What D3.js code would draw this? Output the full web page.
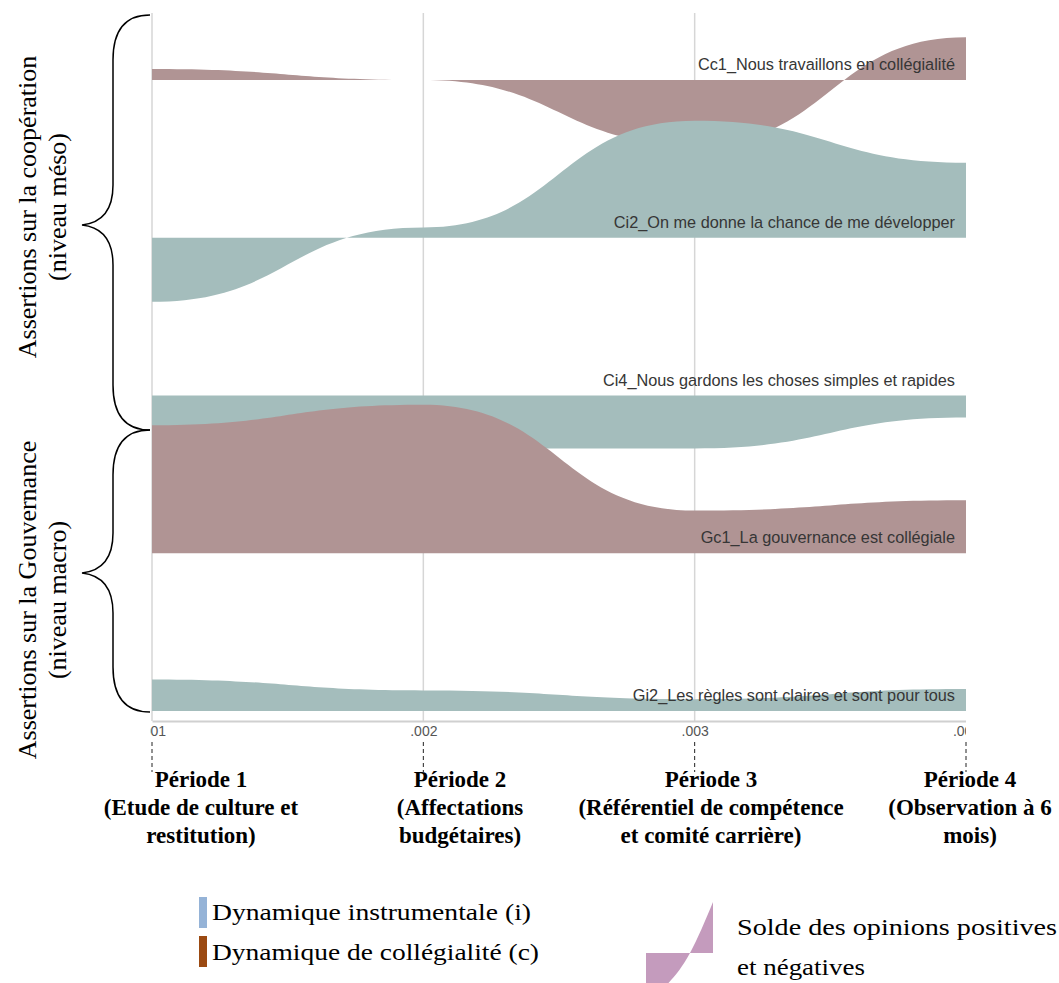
<!DOCTYPE html>
<html lang="fr">
<head>
<meta charset="utf-8">
<title>Dynamiques des assertions</title>
<script src="https://cdn.jsdelivr.net/npm/d3@7"></script>
<style>
  body { margin: 0; background: #fff; }
  svg { display: block; }
  .row-label { font-family: "Liberation Sans", Arial, sans-serif; font-size: 16.3px; fill: #363636; }
  .serif { font-family: "Liberation Serif", "Times New Roman", serif; fill: #000; }
</style>
</head>
<body>
<svg id="chart"></svg>
<script>
// periods on the x axis
const periods = [0.001, 0.002, 0.003, 0.004];
const periodTitles = ['Période 1', 'Période 2', 'Période 3', 'Période 4'];
const periodNotes = [
  ['(Etude de culture et', 'restitution)'],
  ['(Affectations', 'budgétaires)'],
  ['(Référentiel de compétence', 'et comité carrière)'],
  ['(Observation à 6', 'mois)']
];

// assertions, top to bottom, and their dynamic (i = instrumentale, c = collégialité)
const assertions = [
  'Cc1_Nous travaillons en collégialité',
  'Ci2_On me donne la chance de me développer',
  'Ci4_Nous gardons les choses simples et rapides',
  'Gc1_La gouvernance est collégiale',
  'Gi2_Les règles sont claires et sont pour tous'
];
const dynamics = ['c', 'i', 'i', 'c', 'i'];

// solde des opinions positives et négatives, one value per period
const cc1Values = [7, 0, -41, 27];
const ci2Values = [-40.5, 6.5, 74, 47.5];
const ci4Values = [-33.5, -33.5, -33.5, -14];
const gc1Values = [81, 94, 27, 33.5];
const gi2Values = [20, 13, 7.5, 14];
const seriesValues = [cc1Values, ci2Values, ci4Values, gc1Values, gi2Values];

// side braces and legend texts
const groupLabels = [
  ['Assertions sur la coopération', '(niveau méso)'],
  ['Assertions sur la Gouvernance', '(niveau macro)']
];
const legendLabels = ['Dynamique instrumentale (i)', 'Dynamique de collégialité (c)'];
const balanceLabels = ['Solde des opinions positives', 'et négatives'];

// ---- layout ----
const width = 1059;
const height = 983;
const colors = { i: '#a4bdbc', c: '#b09494' };
const legendColors = ['#95b3d7', '#9b4a12'];

const svg = d3.select('#chart')
  .attr('width', width)
  .attr('height', height)
  .attr('viewBox', `0 0 ${width} ${height}`);

const x = d3.scaleLinear().domain([0.001, 0.004]).range([152, 966]);
const row = d3.scalePoint().domain(assertions).range([80, 711]);
const v = d3.scaleLinear().domain([0, 100]).range([0, 158]);

// clips: tick labels are cut at both ends, period 3 text is cut on the right
const defs = svg.append('defs');
defs.append('clipPath').attr('id', 'tick-clip')
  .append('rect').attr('x', 150).attr('y', -20).attr('width', 816).attr('height', 60);
defs.append('clipPath').attr('id', 'period3-clip')
  .append('rect').attr('x', 0).attr('y', 740).attr('width', 845).attr('height', 120);

// vertical grid lines
svg.append('g')
  .selectAll('line')
  .data(periods.slice(0, 3))
  .join('line')
    .attr('x1', d => x(d)).attr('x2', d => x(d))
    .attr('y1', 13).attr('y2', 721)
    .attr('stroke', '#d6d6d6')
    .attr('stroke-width', 1.5);

// areas, one ridge per assertion
const area = d3.area()
  .x((d, i) => x(periods[i]))
  .y0(0)
  .y1(d => -v(d))
  .curve(d3.curveBumpX);

const ridges = svg.append('g')
  .selectAll('g')
  .data(assertions)
  .join('g')
    .attr('transform', d => `translate(0, ${row(d)})`);

ridges.append('path')
  .attr('d', (d, i) => area(seriesValues[i]))
  .attr('fill', (d, i) => colors[dynamics[i]]);

ridges.append('text')
  .attr('class', 'row-label')
  .attr('x', 955)
  .attr('y', -10)
  .attr('text-anchor', 'end')
  .text(d => d);

// bottom axis
const axis = svg.append('g')
  .attr('transform', 'translate(0, 721)')
  .attr('clip-path', 'url(#tick-clip)')
  .call(d3.axisBottom(x)
    .tickValues(periods)
    .tickSize(0)
    .tickSizeOuter(0)
    .tickPadding(5)
    .tickFormat(d => d3.format('.3f')(d).replace(/^0/, '')));
axis.attr('font-family', '"Liberation Sans", Arial, sans-serif').attr('font-size', 14);
axis.selectAll('.tick text').attr('fill', '#555');
axis.select('.domain').attr('stroke', '#d0d0d0').attr('stroke-width', 2);

// dashed markers under each tick
svg.append('g')
  .selectAll('line')
  .data(periods)
  .join('line')
    .attr('x1', d => x(d)).attr('x2', d => x(d))
    .attr('y1', 742).attr('y2', 772)
    .attr('stroke', '#222')
    .attr('stroke-dasharray', '4,3');

// period labels
const periodLabelX = [201, 460, 711, 970];
const periodText = svg.append('g')
  .selectAll('text')
  .data(periodTitles)
  .join('text')
    .attr('class', 'serif')
    .attr('clip-path', (d, i) => i === 2 ? 'url(#period3-clip)' : null)
    .attr('text-anchor', 'middle')
    .attr('font-size', 23)
    .attr('font-weight', 'bold');
periodText.append('tspan')
  .attr('x', (d, i) => periodLabelX[i]).attr('y', 787)
  .text(d => d);
periodText.each(function (d, i) {
  d3.select(this).selectAll('tspan.note')
    .data(periodNotes[i])
    .join('tspan')
      .attr('class', 'note')
      .attr('x', periodLabelX[i])
      .attr('y', (n, j) => 815 + j * 28)
      .text(n => n);
});

// curly braces on the left
const braces = [
  { top: 15, tip: 225, bottom: 430 },
  { top: 430, tip: 573, bottom: 712 }
];
function bracePath(b) {
  const p = d3.path();
  p.moveTo(150, b.top);
  p.bezierCurveTo(126, b.top, 113, b.top + 15, 113, b.top + 45);
  p.lineTo(113, b.tip - 40);
  p.bezierCurveTo(113, b.tip - 12, 100, b.tip - 2, 82, b.tip);
  p.bezierCurveTo(100, b.tip + 2, 113, b.tip + 12, 113, b.tip + 40);
  p.lineTo(113, b.bottom - 45);
  p.bezierCurveTo(113, b.bottom - 15, 126, b.bottom, 150, b.bottom);
  return p.toString();
}
svg.append('g')
  .selectAll('path')
  .data(braces)
  .join('path')
    .attr('d', bracePath)
    .attr('fill', 'none')
    .attr('stroke', '#000')
    .attr('stroke-width', 1.5);

// rotated group labels
const groupCenters = [207, 600];
groupLabels.forEach((lines, g) => {
  svg.append('text')
    .attr('class', 'serif')
    .attr('font-size', 26)
    .attr('text-anchor', 'middle')
    .attr('transform', `translate(0, ${groupCenters[g]}) rotate(-90)`)
    .selectAll('tspan')
    .data(lines)
    .join('tspan')
      .attr('x', 0)
      .attr('y', (d, j) => 36 + j * 30)
      .text(d => d);
});

// legend: dynamics
const legendWidths = [319, 327];
const legend = svg.append('g');
legend.selectAll('rect')
  .data(legendLabels)
  .join('rect')
    .attr('x', 199)
    .attr('y', (d, i) => 897 + i * 39)
    .attr('width', 8)
    .attr('height', 31)
    .attr('fill', (d, i) => legendColors[i]);
legend.selectAll('text')
  .data(legendLabels)
  .join('text')
    .attr('class', 'serif')
    .attr('font-size', 23)
    .attr('x', 212)
    .attr('y', (d, i) => 920 + i * 40)
    .attr('textLength', (d, i) => legendWidths[i])
    .attr('lengthAdjust', 'spacingAndGlyphs')
    .text(d => d);

// legend: balance of opinions glyph
const glyphX = [646, 690, 713];
const glyphY = [1002, 953, 902];
const glyph = d3.area()
  .x((d, i) => glyphX[i])
  .y0(953)
  .y1(d => d)
  .curve(d3.curveMonotoneX);
svg.append('path')
  .attr('d', glyph(glyphY))
  .attr('fill', '#c49bbd');
const balanceWidths = [320, 128];
svg.append('g')
  .selectAll('text')
  .data(balanceLabels)
  .join('text')
    .attr('class', 'serif')
    .attr('font-size', 23)
    .attr('x', 737)
    .attr('y', (d, i) => 935 + i * 40)
    .attr('textLength', (d, i) => balanceWidths[i])
    .attr('lengthAdjust', 'spacingAndGlyphs')
    .text(d => d);
</script>
</body>
</html>
